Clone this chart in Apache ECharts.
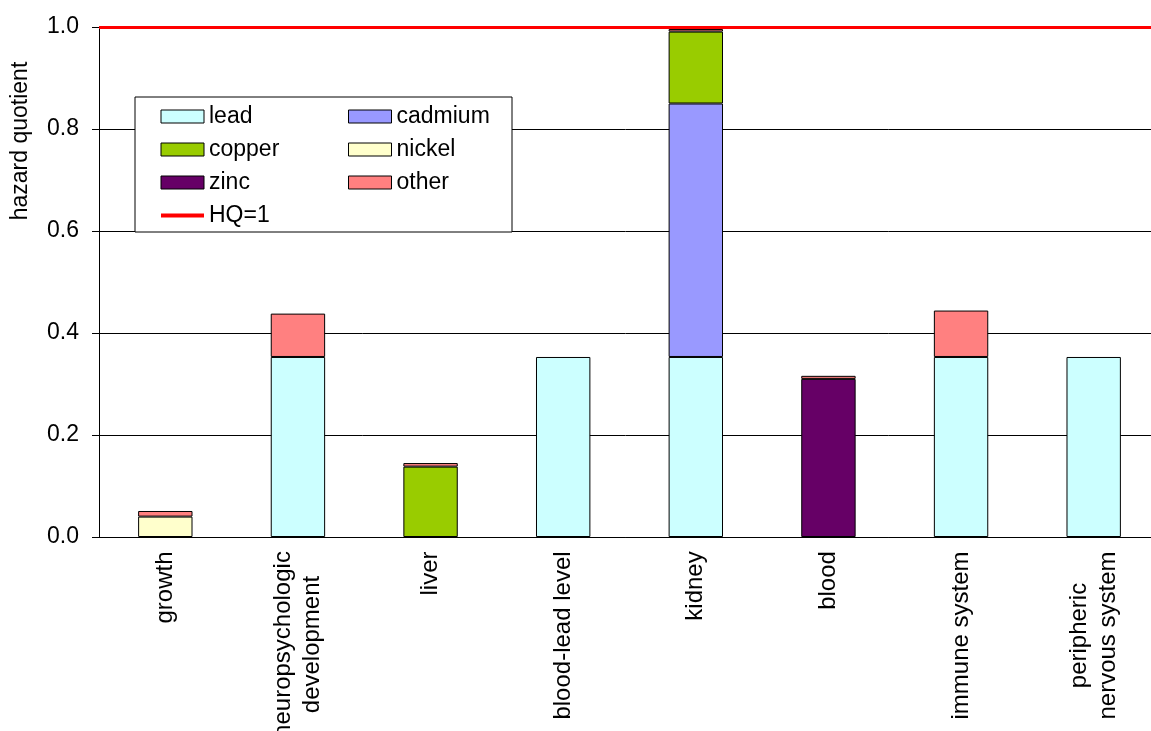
<!DOCTYPE html>
<html>
<head>
<meta charset="utf-8">
<script src="https://cdn.jsdelivr.net/npm/echarts@6/dist/echarts.min.js"></script>
<style>
html,body{margin:0;padding:0;background:#fff;}
#chart{width:1151px;height:731px;}
</style>
</head>
<body>
<div id="chart"></div>
<script>
const categories = ['growth', 'neuropsychologic\ndevelopment', 'liver', 'blood-lead level', 'kidney', 'blood', 'immune system', 'peripheric\nnervous system'];
const lead    = [null, 0.353, null, 0.353, 0.353, null, 0.353, 0.353];
const cadmium = [null, null, null, null, 0.497, null, null, null];
const copper  = [null, null, 0.138, null, 0.141, null, null, null];
const nickel  = [0.040, null, null, null, null, null, null, null];
const zinc    = [null, null, null, null, null, 0.310, null, null];
const other   = [0.011, 0.085, 0.007, null, 0.005, 0.006, 0.091, null];
const hqLevel = 1;
const yTicks = ['0.0', '0.2', '0.4', '0.6', '0.8', '1.0'];

const FONT = '"Liberation Sans", Arial, sans-serif';
const FS = 23;
const XFS = 24;

const ctx = document.createElement('canvas').getContext('2d');
ctx.font = XFS + 'px "Liberation Sans"';
const rich = {};
categories.forEach((c, i) => {
  const w = Math.max(...c.split('\n').map(l => ctx.measureText(l).width));
  rich['c' + i] = { width: Math.ceil(w), align: 'center', fontSize: XFS, fontFamily: FONT, color: '#000', lineHeight: 29 };
});

function barSeries(name, data, color) {
  return {
    name: name, type: 'bar', stack: 'hq', data: data, barWidth: '41%',
    itemStyle: { color: color, borderColor: '#000', borderWidth: 1 },
    emphasis: { disabled: true }
  };
}
function legendItem(name) {
  return { name: name, icon: 'rect', itemStyle: { borderColor: '#000', borderWidth: 1 } };
}
const legendBase = {
  orient: 'vertical', top: 105, padding: 0,
  itemWidth: 43, itemHeight: 13, itemGap: 10, selectedMode: false,
  textStyle: { fontSize: FS, fontFamily: FONT, color: '#000', lineHeight: 23 }
};

const chart = echarts.init(document.getElementById('chart'), null, { renderer: 'canvas' });
chart.setOption({
  animation: false,
  backgroundColor: '#fff',
  grid: { left: 99, top: 27, width: 1061, height: 510, containLabel: false, outerBoundsMode: 'none' },
  xAxis: {
    type: 'category', data: categories, boundaryGap: true,
    axisLine: { lineStyle: { color: '#000', width: 1 } },
    axisTick: { length: 7, lineStyle: { color: '#000' } },
    axisLabel: {
      interval: 0, rotate: 90, margin: 14, color: '#000', fontSize: XFS, fontFamily: FONT,
      formatter: (v, i) => v.split('\n').map(l => '{c' + i + '|' + l + '}').join('\n'),
      rich: rich
    }
  },
  yAxis: {
    type: 'value', min: 0, max: 1, interval: 0.2,
    axisLine: { show: true, lineStyle: { color: '#000', width: 1 } },
    axisTick: { show: true, length: 7, lineStyle: { color: '#000' } },
    splitLine: { lineStyle: { color: '#000', width: 1 } },
    axisLabel: {
      margin: 20, color: '#000', fontSize: FS, fontFamily: FONT,
      formatter: (v) => yTicks[Math.round(v / 0.2)]
    }
  },
  legend: [
    Object.assign({}, legendBase, {
      left: 159,
      data: [legendItem('lead'), legendItem('copper'), legendItem('zinc'),
             { name: 'HQ=1', itemStyle: { opacity: 0 }, lineStyle: { color: '#FF0000', width: 4 } }]
    }),
    Object.assign({}, legendBase, {
      left: 348,
      data: [legendItem('cadmium'), legendItem('nickel'), legendItem('other')]
    })
  ],
  graphic: [
    { type: 'rect', z: 3, shape: { x: 135, y: 97, width: 377, height: 135 },
      style: { fill: '#fff', stroke: '#000', lineWidth: 1 } },
    { type: 'text', z: 5, x: 21, y: 141, rotation: Math.PI / 2,
      style: { text: 'hazard quotient', font: '23px "Liberation Sans"', fill: '#000', align: 'center', verticalAlign: 'middle' } }
  ],
  series: [
    barSeries('lead', lead, '#CCFFFF'),
    barSeries('cadmium', cadmium, '#9999FF'),
    barSeries('copper', copper, '#99CC00'),
    barSeries('nickel', nickel, '#FFFFCC'),
    barSeries('zinc', zinc, '#660066'),
    barSeries('other', other, '#FF8080'),
    {
      name: 'HQ=1', type: 'line', data: [], symbol: 'none',
      lineStyle: { color: '#FF0000', width: 4 }, itemStyle: { color: '#FF0000' },
      markLine: {
        silent: true, symbol: 'none', label: { show: false },
        lineStyle: { color: '#FF0000', width: 3, type: 'solid' },
        data: [{ yAxis: hqLevel }]
      }
    }
  ]
});
</script>
</body>
</html>
